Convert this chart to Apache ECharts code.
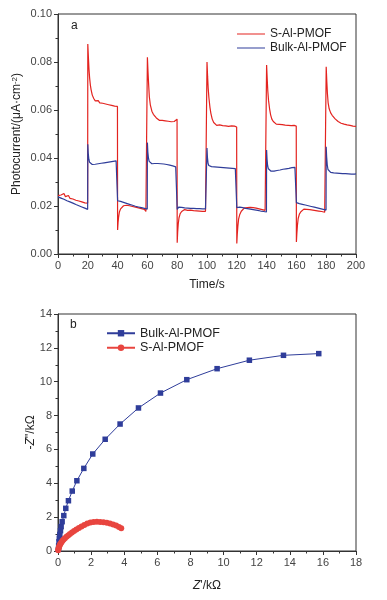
<!DOCTYPE html>
<html>
<head>
<meta charset="utf-8">
<script src="https://cdn.jsdelivr.net/npm/echarts@6/dist/echarts.min.js"></script>
<style>
  html, body { margin: 0; padding: 0; background: #fff; }
  #chart { width: 387px; height: 600px; }
</style>
</head>
<body>
<div id="chart"></div>
<script>
// (a) photocurrent, [time s, current μA/cm2]
const sPhoto = [
  [0, 0.0243], [1, 0.0238], [2, 0.0246], [3, 0.0241], [4, 0.0252], [5, 0.0239], [6, 0.0236], [7, 0.0244],
  [8, 0.0232], [9, 0.0238], [10, 0.0229], [11, 0.0235], [12, 0.0224], [13, 0.0231], [14, 0.0221], [15, 0.0228],
  [16, 0.0217], [17, 0.0224], [18, 0.0213], [19, 0.0219], [19.9, 0.0212],
  [20, 0.0875], [20.4, 0.082], [20.8, 0.077], [21.2, 0.0735], [21.7, 0.0705], [22.2, 0.0685], [23, 0.0662], [24, 0.0648],
  [25, 0.0638], [26, 0.0634], [27, 0.0639], [28, 0.063], [29, 0.0636], [30, 0.0628], [31, 0.0633], [32, 0.0625],
  [33, 0.063], [34, 0.0622], [35, 0.0627], [36, 0.0619], [37, 0.0623], [38, 0.0616], [39, 0.0621], [39.9, 0.0615],
  [40, 0.010], [40.3, 0.013], [40.7, 0.0155], [41.2, 0.0175], [42, 0.0188], [43, 0.0196], [44, 0.0201], [45, 0.0199],
  [46, 0.0203], [47, 0.0196], [48, 0.0201], [49, 0.0194], [50, 0.0198], [51, 0.0191], [52, 0.0195], [53, 0.0188],
  [54, 0.0192], [55, 0.0185], [56, 0.0189], [57, 0.0181], [58, 0.0186], [59, 0.0177], [59.9, 0.018],
  [60, 0.082], [60.4, 0.076], [60.8, 0.071], [61.3, 0.0655], [62, 0.062], [63, 0.0595], [64, 0.0582], [65, 0.0574],
  [66, 0.0567], [67, 0.0561], [68, 0.0557], [69, 0.0552], [70, 0.0557], [71, 0.055], [72, 0.0555], [73, 0.0548],
  [74, 0.0553], [75, 0.0546], [76, 0.0551], [77, 0.0545], [78, 0.0552], [79, 0.0547], [79.9, 0.0562],
  [80, 0.0047], [80.3, 0.009], [80.7, 0.0125], [81.2, 0.015], [82, 0.0168], [83, 0.0177], [84, 0.0182], [85, 0.0185],
  [86, 0.0188], [87, 0.0182], [88, 0.0189], [89, 0.0183], [90, 0.0187], [91, 0.0181], [92, 0.0186], [93, 0.018],
  [94, 0.0185], [95, 0.0179], [96, 0.0184], [97, 0.0178], [98, 0.0183], [99, 0.0178], [99.9, 0.0181],
  [100, 0.080], [100.4, 0.074], [100.8, 0.069], [101.3, 0.065], [102, 0.061], [102.6, 0.0586], [103.5, 0.0562],
  [104.5, 0.0548], [105.5, 0.0541], [106.5, 0.0536], [107.5, 0.0532], [108.5, 0.0538], [109.5, 0.053], [110.5, 0.0535],
  [111.5, 0.0529], [112.5, 0.0534], [113.5, 0.0527], [114.5, 0.0532], [115.5, 0.0529], [116.5, 0.0534], [117.5, 0.0528],
  [118.5, 0.0533], [119.9, 0.0529],
  [120, 0.0044], [120.3, 0.008], [120.7, 0.0115], [121.2, 0.0145], [122, 0.0165], [123, 0.0178], [124, 0.0186],
  [125, 0.0191], [126, 0.0195], [127, 0.0193], [128, 0.0198], [129, 0.0194], [130, 0.0199], [131, 0.0193],
  [132, 0.0197], [133, 0.0191], [134, 0.0195], [135, 0.0188], [136, 0.0192], [137, 0.0185], [138, 0.0189],
  [139, 0.0182], [139.9, 0.0185],
  [140, 0.0787], [140.4, 0.073], [140.8, 0.068], [141.3, 0.064], [142, 0.0605], [142.7, 0.058], [143.5, 0.0562],
  [144.5, 0.0552], [145.5, 0.0545], [146.5, 0.0541], [147.5, 0.0536], [148.5, 0.054], [149.5, 0.0534], [150.5, 0.0539],
  [151.5, 0.0533], [152.5, 0.0537], [153.5, 0.0531], [154.5, 0.0536], [155.5, 0.053], [156.5, 0.0535], [157.5, 0.0531],
  [158.5, 0.0536], [159.9, 0.0533],
  [160, 0.005], [160.3, 0.0085], [160.7, 0.012], [161.2, 0.0148], [162, 0.0166], [163, 0.0176], [164, 0.0183],
  [165, 0.0187], [166, 0.0189], [167, 0.0186], [168, 0.019], [169, 0.0185], [170, 0.0188], [171, 0.0183],
  [172, 0.0187], [173, 0.0181], [174, 0.0185], [175, 0.0179], [176, 0.0183], [177, 0.0177], [178, 0.0181],
  [179, 0.0174], [179.9, 0.0171],
  [180, 0.078], [180.4, 0.072], [180.8, 0.067], [181.3, 0.063], [182, 0.0605], [183, 0.0588], [184, 0.0578],
  [185, 0.0572], [186, 0.0563], [187, 0.0558], [188, 0.0552], [189, 0.0549], [190, 0.0545], [191, 0.0548],
  [192, 0.0541], [193, 0.0545], [194, 0.0538], [195, 0.0542], [196, 0.0536], [197, 0.0539], [198, 0.0533],
  [199, 0.0536], [200, 0.0532]
]

const bulkPhoto = [
  [0, 0.0238], [1, 0.0237], [2, 0.0233], [3, 0.0232], [4, 0.0228], [5, 0.0227], [6, 0.0222], [7, 0.0221],
  [8, 0.0217], [9, 0.0215], [10, 0.0212], [11, 0.021], [12, 0.0206], [13, 0.0205], [14, 0.0201], [15, 0.02],
  [16, 0.0196], [17, 0.0195], [18, 0.0191], [19, 0.019], [19.9, 0.0186],
  [20, 0.0457], [20.3, 0.042], [20.7, 0.0395], [21.2, 0.0382], [22, 0.0376], [23, 0.0373], [24, 0.0372],
  [25, 0.0374], [26, 0.0373], [27, 0.0376], [28, 0.0375], [29, 0.0378], [30, 0.0377], [31, 0.038], [32, 0.0379],
  [33, 0.0382], [34, 0.0381], [35, 0.0384], [36, 0.0383], [37, 0.0386], [38, 0.0387], [39, 0.0388], [39.9, 0.0384],
  [40, 0.0222], [41, 0.0222], [42, 0.0219], [43, 0.0218], [44, 0.0215], [45, 0.0214], [46, 0.0211], [47, 0.021],
  [48, 0.0207], [49, 0.0206], [50, 0.0203], [51, 0.0202], [52, 0.0199], [53, 0.0198], [54, 0.0196], [55, 0.0195],
  [56, 0.0193], [57, 0.0192], [58, 0.019], [59, 0.0189], [59.9, 0.0187],
  [60, 0.0464], [60.3, 0.0425], [60.7, 0.04], [61.2, 0.0386], [62, 0.0379], [63, 0.0376], [64, 0.0375],
  [65, 0.0377], [66, 0.0376], [67, 0.0377], [68, 0.0375], [69, 0.0376], [70, 0.0374], [71, 0.0375], [72, 0.0373],
  [73, 0.0373], [74, 0.0371], [75, 0.037], [76, 0.0368], [77, 0.0367], [78, 0.0365], [79, 0.0363], [79.9, 0.0361],
  [80, 0.0186], [80.5, 0.0193], [81, 0.0195], [82, 0.0193], [83, 0.0194], [84, 0.0191], [85, 0.0192], [86, 0.019],
  [87, 0.0191], [88, 0.0189], [89, 0.019], [90, 0.0188], [91, 0.019], [92, 0.0188], [93, 0.0189], [94, 0.0187],
  [95, 0.0189], [96, 0.0187], [97, 0.0188], [98, 0.0186], [99, 0.0188], [99.9, 0.0187],
  [100, 0.0442], [100.3, 0.0402], [100.7, 0.0378], [101.2, 0.0369], [102, 0.0365], [103, 0.0364], [104, 0.0365],
  [105, 0.0363], [106, 0.0364], [107, 0.0362], [108, 0.0363], [109, 0.0361], [110, 0.0362], [111, 0.036],
  [112, 0.0361], [113, 0.0359], [114, 0.036], [115, 0.0358], [116, 0.0359], [117, 0.0357], [118, 0.0358],
  [119, 0.0356], [119.9, 0.0357],
  [120, 0.0193], [121, 0.0197], [122, 0.0195], [123, 0.0194], [124, 0.0193], [125, 0.0192], [126, 0.019],
  [127, 0.0189], [128, 0.0188], [129, 0.0187], [130, 0.0186], [131, 0.0185], [132, 0.0184], [133, 0.0183],
  [134, 0.0182], [135, 0.0181], [136, 0.0179], [137, 0.0179], [138, 0.0177], [139, 0.0176], [139.9, 0.0175],
  [140, 0.0433], [140.3, 0.0395], [140.7, 0.0368], [141.2, 0.0355], [142, 0.0348], [143, 0.0345], [144, 0.0344],
  [145, 0.0345], [146, 0.0346], [147, 0.0348], [148, 0.0347], [149, 0.035], [150, 0.0351], [151, 0.0353],
  [152, 0.0352], [153, 0.0355], [154, 0.0356], [155, 0.0357], [156, 0.0358], [157, 0.036], [158, 0.0359],
  [159, 0.0361], [159.9, 0.036],
  [160, 0.0214], [161, 0.0212], [162, 0.021], [163, 0.0209], [164, 0.0207], [165, 0.0206], [166, 0.0204],
  [167, 0.0203], [168, 0.0201], [169, 0.02], [170, 0.0198], [171, 0.0197], [172, 0.0195], [173, 0.0194],
  [174, 0.0192], [175, 0.0191], [176, 0.0189], [177, 0.0188], [178, 0.0186], [179, 0.0185], [179.9, 0.0183],
  [180, 0.0447], [180.3, 0.0405], [180.7, 0.0372], [181.2, 0.0352], [182, 0.0344], [183, 0.034], [184, 0.0339],
  [185, 0.0338], [186, 0.0339], [187, 0.0337], [188, 0.0338], [189, 0.0336], [190, 0.0337], [191, 0.0335],
  [192, 0.0336], [193, 0.0335], [194, 0.0336], [195, 0.0334], [196, 0.0335], [197, 0.0333], [198, 0.0334],
  [199, 0.0333], [200, 0.0334]
]

// (b) Nyquist, [Z' kΩ, -Z'' kΩ]
const bulkNyquist = [
  [0.03, 0.1], [0.04, 0.3], [0.06, 0.55], [0.08, 0.75], [0.11, 0.98], [0.15, 1.2], [0.19, 1.44], [0.25, 1.73],
  [0.35, 2.09], [0.47, 2.52], [0.63, 2.97], [0.86, 3.54], [1.14, 4.15], [1.56, 4.88], [2.1, 5.73], [2.85, 6.6],
  [3.75, 7.5], [4.86, 8.45], [6.19, 9.33], [7.78, 10.12], [9.61, 10.77], [11.56, 11.27], [13.62, 11.56], [15.75, 11.66]
]
const sNyquist = [
  [0.01, 0.04], [0.02, 0.1], [0.04, 0.17], [0.06, 0.24], [0.09, 0.31], [0.12, 0.38], [0.16, 0.45], [0.21, 0.52],
  [0.27, 0.6], [0.34, 0.68], [0.42, 0.76], [0.51, 0.84], [0.61, 0.92], [0.72, 1.0], [0.84, 1.09], [0.97, 1.18],
  [1.11, 1.27], [1.26, 1.36], [1.42, 1.45], [1.59, 1.54], [1.77, 1.62], [1.96, 1.68], [2.15, 1.72], [2.35, 1.73],
  [2.55, 1.72], [2.75, 1.7], [2.95, 1.67], [3.14, 1.63], [3.33, 1.57], [3.51, 1.5], [3.68, 1.42], [3.82, 1.34]
]

const RED = '#e3231f'
const BLUE = '#2f3d9a'
const FONT = 'Arial, "Liberation Sans", sans-serif'
const LINE_ICON = 'path://M0,0H28V1H0Z'

function axisBase(idx) {
  return {
    gridIndex: idx,
    type: 'value',
    nameLocation: 'middle',
    nameMoveOverlap: false,
    nameTextStyle: { color: '#222', fontSize: 12, fontFamily: FONT },
    axisLine: { show: true, lineStyle: { color: '#333', width: 1 } },
    axisTick: { show: true, length: 4, lineStyle: { color: '#333' } },
    minorTick: { show: true, splitNumber: 2, length: 2.5, lineStyle: { color: '#333' } },
    splitLine: { show: false },
    axisLabel: { color: '#444', fontSize: 11, fontFamily: FONT, margin: 6 }
  }
}

const myChart = echarts.init(document.getElementById('chart'))
const option = {
  animation: false,
  textStyle: { fontFamily: FONT },
  grid: [
    { left: 58, top: 14, width: 298, height: 240, show: true, borderColor: '#333', borderWidth: 1 },
    { left: 58, top: 314, width: 298, height: 237, show: true, borderColor: '#333', borderWidth: 1 }
  ],
  xAxis: [
    Object.assign(axisBase(0), { min: 0, max: 200, interval: 20, name: 'Time/s', nameGap: 25 }),
    Object.assign(axisBase(1), {
      min: 0, max: 18, interval: 2, name: '{i|Z}\'/kΩ', nameGap: 29,
      nameTextStyle: { color: '#222', fontSize: 12, fontFamily: FONT, rich: { i: { fontStyle: 'italic', fontSize: 12 } } }
    })
  ],
  yAxis: [
    Object.assign(axisBase(0), {
      min: 0, max: 0.1, interval: 0.02, nameGap: 35,
      name: 'Photocurrent/(μA·cm{sup|-2})',
      nameTextStyle: { color: '#222', fontSize: 12, fontFamily: FONT, rich: { sup: { fontSize: 8, verticalAlign: 'top', lineHeight: 8 } } },
      axisLabel: { color: '#444', fontSize: 11, fontFamily: FONT, margin: 6, formatter: (v) => v.toFixed(2) }
    }),
    Object.assign(axisBase(1), {
      min: 0, max: 14, interval: 2, nameGap: 21,
      name: '-{i|Z}\'\'/kΩ',
      nameTextStyle: { color: '#222', fontSize: 12, fontFamily: FONT, rich: { i: { fontStyle: 'italic', fontSize: 12 } } }
    })
  ],
  legend: [
    {
      orient: 'vertical', left: 232, top: 22, itemWidth: 28, itemHeight: 1.5, itemGap: 0,
      textStyle: { fontSize: 12, color: '#222', fontFamily: FONT, lineHeight: 14 },
      data: [
        { name: 'S-Al-PMOF', icon: LINE_ICON },
        { name: 'Bulk-Al-PMOF', icon: LINE_ICON }
      ]
    },
    {
      orient: 'vertical', left: 101, top: 321, itemWidth: 28, itemHeight: 8, itemGap: 0,
      textStyle: { fontSize: 12.5, color: '#222', fontFamily: FONT, lineHeight: 14.5 },
      data: ['Bulk-Al-PMOF ', 'S-Al-PMOF ']
    }
  ],
  graphic: [
    { type: 'text', left: 71, top: 20, style: { text: 'a', fontSize: 12, fill: '#222', fontFamily: FONT } },
    { type: 'text', left: 70, top: 319, style: { text: 'b', fontSize: 12, fill: '#222', fontFamily: FONT } }
  ],
  series: [
    {
      name: 'S-Al-PMOF', type: 'line', xAxisIndex: 0, yAxisIndex: 0, data: sPhoto,
      symbol: 'none', lineStyle: { color: RED, width: 1.2 }, itemStyle: { color: RED }
    },
    {
      name: 'Bulk-Al-PMOF', type: 'line', xAxisIndex: 0, yAxisIndex: 0, data: bulkPhoto,
      symbol: 'none', lineStyle: { color: BLUE, width: 1.2 }, itemStyle: { color: BLUE }
    },
    {
      name: 'Bulk-Al-PMOF ', type: 'line', xAxisIndex: 1, yAxisIndex: 1, data: bulkNyquist,
      symbol: 'rect', symbolSize: 5.5, lineStyle: { color: BLUE, width: 1 }, itemStyle: { color: BLUE }
    },
    {
      name: 'S-Al-PMOF ', type: 'line', xAxisIndex: 1, yAxisIndex: 1, data: sNyquist,
      symbol: 'circle', symbolSize: 6, lineStyle: { color: '#e8453f', width: 1 }, itemStyle: { color: '#e8453f' }
    }
  ]
}
myChart.setOption(option)
</script>
</body>
</html>
